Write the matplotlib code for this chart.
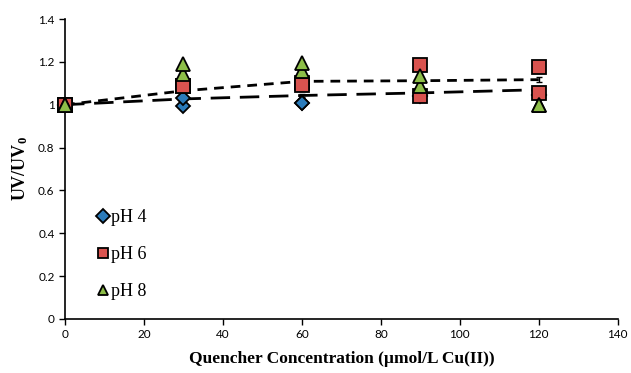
import matplotlib
matplotlib.use("Agg")
import matplotlib.pyplot as plt

# quencher concentration (umol/L Cu(II))
conc = [0, 30, 60, 90, 120]

# two replicate readings per pH
ph4_a = [1.0, 1.030, 1.008, 1.040, 1.045]
ph4_b = [1.0, 0.995, 1.008, 1.040, 1.045]
ph6_a = [1.0, 1.085, 1.093, 1.187, 1.175]
ph6_b = [1.0, 1.085, 1.100, 1.039, 1.055]
ph8_a = [1.0, 1.190, 1.195, 1.132, 1.000]
ph8_b = [1.0, 1.143, 1.156, 1.086, 1.000]

# dashed mean lines with small error bars
mean_short = [1.0, 1.065, 1.109, 1.112, 1.117]
err_short = [0.0, 0.008, 0.008, 0.008, 0.012]
mean_long = [1.0, 1.027, 1.043, 1.055, 1.070]
err_long = [0.0, 0.008, 0.008, 0.008, 0.010]

xticks = [0, 20, 40, 60, 80, 100, 120, 140]
yticks = [0, 0.2, 0.4, 0.6, 0.8, 1, 1.2, 1.4]
ylabels = ["0", "0.2", "0.4", "0.6", "0.8", "1", "1.2", "1.4"]

plt.rcParams['mathtext.fontset'] = 'custom'
plt.rcParams['mathtext.rm'] = 'Liberation Serif:bold'
plt.rcParams['mathtext.it'] = 'Liberation Serif:bold'

fig = plt.figure(figsize=(6.31, 3.73), dpi=100)
ax = fig.add_axes([0.103, 0.145, 0.876, 0.804])

# mean lines
ax.errorbar(conc, mean_short, yerr=err_short, color='black', lw=2,
            ls=(0, (3.5, 2.5)), capsize=2, elinewidth=1, zorder=2)
ax.errorbar(conc, mean_long, yerr=err_long, color='black', lw=2,
            ls=(0, (7, 3.5)), capsize=2, elinewidth=1, zorder=2)

# replicate markers
blue = '#2B7BBA'
red = '#D9534F'
green = '#8DBE48'
kw = dict(mec='black', mew=1.3, clip_on=False)
ax.plot(conc, ph4_b, 'D', ms=7.5, mfc=blue, zorder=3, **kw)
ax.plot(conc, ph4_a, 'D', ms=7.5, mfc=blue, zorder=3, label='pH 4', **kw)
ax.plot(conc, ph6_b, 's', ms=9.5, mfc=red, zorder=4, **kw)
ax.plot(conc, ph6_a, 's', ms=9.5, mfc=red, zorder=4, label='pH 6', **kw)
ax.plot(conc, ph8_b, '^', ms=10, mfc=green, zorder=5, **kw)
ax.plot(conc, ph8_a, '^', ms=10, mfc=green, zorder=5, label='pH 8', **kw)

ax.set_xlim(0, 140)
ax.set_ylim(0, 1.4)
ax.set_xticks(xticks)
ax.set_xticklabels([str(v) for v in xticks], family='Lato', fontsize=8.5)
ax.set_yticks(yticks)
ax.set_yticklabels(ylabels, family='Lato', fontsize=8.5)
ax.tick_params(direction='out', length=4, width=1, colors='black')

for s in ['top', 'right']:
    ax.spines[s].set_visible(False)
for s in ['left', 'bottom']:
    ax.spines[s].set_linewidth(1.2)

ax.set_xlabel('Quencher Concentration (\u00b5mol/L Cu(II))', family='Liberation Serif',
              fontweight='bold', fontsize=12.5, labelpad=8)
ax.set_ylabel('UV/UV$_0$', family='Liberation Serif', fontweight='bold',
              fontsize=13, labelpad=6)

leg = ax.legend(loc='upper left', bbox_to_anchor=(0.03, 0.42), frameon=False,
                handlelength=0.6, handletextpad=0.15, labelspacing=1.1,
                prop={'family': 'Liberation Serif', 'size': 13})
for h in leg.legend_handles:
    h.set_markersize(7.5)

fig.savefig('out.png', dpi=100)
